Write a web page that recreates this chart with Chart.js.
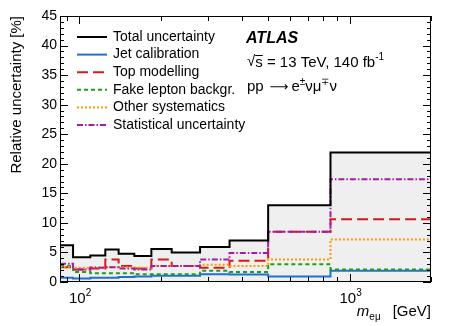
<!DOCTYPE html>
<html>
<head>
<meta charset="utf-8">
<script src="https://cdn.jsdelivr.net/npm/chart.js@4.4.1/dist/chart.umd.min.js"></script>
<style>
  html, body { margin: 0; padding: 0; background: #fff; }
</style>
</head>
<body>
<canvas id="unc-chart" width="449" height="326"></canvas>
<script>
// bin edges in m_emu [GeV]
const binEdges = [85, 95, 110, 125, 140, 160, 185, 220, 280, 360, 500, 850, 2000]

// relative uncertainties [%] per bin
const totalUnc = [6.2, 4.2, 4.5, 5.5, 4.8, 4.4, 5.6, 5.0, 5.9, 7.0, 13.0, 21.9]
const jetCalib = [0.7, 0.6, 0.7, 0.7, 0.85, 0.95, 1.05, 1.05, 1.3, 1.25, 0.95, 1.9]
const topModelling = [2.5, 2.1, 2.3, 3.8, 2.7, 2.3, 3.8, 2.7, 2.4, 3.6, 8.5, 10.6]
const fakeLepton = [2.7, 1.7, 1.5, 1.5, 1.5, 1.3, 1.3, 1.3, 1.9, 1.7, 3.0, 2.1]
const otherSyst = [2.6, 2.4, 2.5, 2.5, 2.5, 2.4, 2.7, 2.7, 2.9, 2.7, 3.8, 7.2]
const statUnc = [3.1, 2.1, 2.4, 2.5, 2.3, 2.1, 2.7, 2.7, 3.8, 4.9, 8.5, 17.4]

const xTicks = [90, 100, 200, 300, 400, 500, 600, 700, 800, 900, 1000, 2000]
// labelled decades: base + exponent
const xTickLabels = { 100: ['10', '2'], 1000: ['10', '3'] }
const yMax = 45

const FONT = '"Liberation Sans", Arial, Helvetica, sans-serif'

// histogram -> stepped points (left edges + closing right edge)
const toSteps = (vals) => binEdges.map((x, i) => ({ x, y: vals[Math.min(i, vals.length - 1)] }))

const series = [
  { label: 'Total uncertainty', data: totalUnc, color: '#000000', dash: [] },
  { label: 'Jet calibration', data: jetCalib, color: '#1f6fd6', dash: [] },
  { label: 'Top modelling', data: topModelling, color: '#d7191c', dash: [11, 5] },
  { label: 'Fake lepton backgr.', data: fakeLepton, color: '#1ca01c', dash: [4, 3] },
  { label: 'Other systematics', data: otherSyst, color: '#ff9a00', dash: [2, 2] },
  { label: 'Statistical uncertainty', data: statUnc, color: '#a41ea4', dash: [6, 2, 1.5, 2] },
]

// inner ticks + frame, ROOT style
const frameTicks = {
  id: 'frameTicks',
  afterDatasetsDraw(chart) {
    const { ctx, chartArea: a, scales: { x, y } } = chart
    ctx.save()
    ctx.strokeStyle = '#000'
    ctx.lineWidth = 1
    ctx.beginPath()
    for (let v = 0; v <= yMax; v++) {
      const py = Math.round(y.getPixelForValue(v)) + 0.5
      const len = v % 5 === 0 ? 8 : 4
      ctx.moveTo(a.left, py); ctx.lineTo(a.left + len, py)
      ctx.moveTo(a.right, py); ctx.lineTo(a.right - len, py)
    }
    xTicks.forEach((v) => {
      const px = Math.round(x.getPixelForValue(v)) + 0.5
      const len = xTickLabels[v] ? 8 : 5
      ctx.moveTo(px, a.bottom); ctx.lineTo(px, a.bottom - len)
      ctx.moveTo(px, a.top); ctx.lineTo(px, a.top + len)
    })
    ctx.stroke()
    ctx.strokeRect(Math.round(a.left) + 0.5, Math.round(a.top) + 0.5, Math.round(a.width) - 1, Math.round(a.height) - 1)

    // decade labels with superscript exponent
    ctx.fillStyle = '#000'
    ctx.textBaseline = 'alphabetic'
    Object.keys(xTickLabels).forEach((k) => {
      const [base, exp] = xTickLabels[k]
      ctx.font = `15px ${FONT}`
      const bw = ctx.measureText(base).width
      ctx.font = `10px ${FONT}`
      const ew = ctx.measureText(exp).width
      const x0 = x.getPixelForValue(Number(k)) - (bw + ew) / 2 + 1
      ctx.font = `15px ${FONT}`
      ctx.fillText(base, x0, a.bottom + 21)
      ctx.font = `10px ${FONT}`
      ctx.fillText(exp, x0 + bw, a.bottom + 14)
    })
    ctx.restore()
  },
}

// draw a run of [text, size, dy] pieces left to right
const drawRun = (ctx, parts, x, y) => {
  let tx = x
  parts.forEach(([t, size, dy]) => {
    ctx.font = `${size}px ${FONT}`
    ctx.fillText(t, tx, y + dy)
    tx += ctx.measureText(t).width
  })
  return tx
}

// legend, ATLAS label, x title
const annotations = {
  id: 'annotations',
  afterDraw(chart) {
    const { ctx, chartArea: a } = chart
    ctx.save()
    ctx.textBaseline = 'middle'
    ctx.font = `14px ${FONT}`
    series.forEach((s, i) => {
      const yy = 37 + i * 17.6
      ctx.strokeStyle = s.color
      ctx.lineWidth = 2
      ctx.setLineDash(s.dash)
      ctx.beginPath()
      ctx.moveTo(77, yy); ctx.lineTo(107, yy)
      ctx.stroke()
      ctx.setLineDash([])
      ctx.fillStyle = '#000'
      ctx.fillText(s.label, 113, yy)
    })

    ctx.fillStyle = '#000'
    ctx.font = `bold italic 16px ${FONT}`
    ctx.fillText('ATLAS', 246, 39)

    ctx.font = `15px ${FONT}`
    let tx = 247
    ctx.fillText('√', tx, 62)
    tx += ctx.measureText('√').width
    ctx.fillText('s', tx, 63)
    const sw = ctx.measureText('s').width
    ctx.lineWidth = 1
    ctx.strokeStyle = '#000'
    ctx.beginPath(); ctx.moveTo(tx, 55.5); ctx.lineTo(tx + sw, 55.5); ctx.stroke()
    tx += sw
    drawRun(ctx, [[' = 13 TeV, 140 fb', 15, 0], ['-1', 10, -6]], tx, 63)

    tx = drawRun(ctx, [['pp ', 15, 0]], 247, 87)
    ctx.font = `13px "DejaVu Sans", ${FONT}`
    ctx.fillText('⟶', tx + 2, 88)
    tx += ctx.measureText('⟶').width + 5
    drawRun(ctx, [['e', 15, 0], ['±', 10, -5], ['νμ', 15, 0], ['∓', 10, -5], ['ν', 15, 0]], tx, 87)

    // x title: m_{eμ} [GeV], right aligned to frame
    ctx.textAlign = 'right'
    ctx.font = `15px ${FONT}`
    const gev = '[GeV]'
    ctx.fillText(gev, a.right, 312)
    let rx = a.right - ctx.measureText(gev).width - 12
    ctx.font = `10px ${FONT}`
    ctx.fillText('eμ', rx, 317)
    rx -= ctx.measureText('eμ').width
    ctx.font = `italic 15px ${FONT}`
    ctx.fillText('m', rx, 312)
    ctx.restore()
  },
}

const ctx = document.getElementById('unc-chart')

new Chart(ctx, {
  type: 'line',
  data: {
    datasets: series.map((s, i) => ({
      label: s.label,
      data: toSteps(s.data),
      borderColor: s.color,
      borderDash: s.dash,
      borderWidth: 2,
      stepped: 'before',
      pointRadius: 0,
      fill: i === 0 ? 'origin' : false,
      backgroundColor: i === 0 ? '#efefef' : 'transparent',
      order: i === 0 ? 0 : 6 - i,
    })),
  },
  options: {
    responsive: false,
    animation: false,
    devicePixelRatio: 1,
    layout: { padding: { top: 16, right: 18, left: 0, bottom: 0 } },
    plugins: {
      legend: { display: false },
      tooltip: { enabled: false },
      filler: { drawTime: 'beforeDatasetsDraw' },
    },
    scales: {
      x: {
        type: 'logarithmic',
        min: 85,
        max: 2000,
        grid: { display: false, drawTicks: false },
        border: { display: false },
        afterBuildTicks: (scale) => { scale.ticks = xTicks.map((v) => ({ value: v })) },
        afterFit: (scale) => { scale.height = 44 },
        ticks: {
          autoSkip: false,
          maxRotation: 0,
          padding: 8,
          color: '#000',
          font: { family: FONT, size: 14 },
          callback: () => '',
        },
      },
      y: {
        min: 0,
        max: yMax,
        grid: { display: false, drawTicks: false },
        border: { display: false },
        afterFit: (scale) => { scale.width = 60 },
        ticks: {
          stepSize: 5,
          padding: 3,
          color: '#000',
          font: { family: FONT, size: 14 },
        },
        title: {
          display: true,
          text: 'Relative uncertainty [%]',
          align: 'end',
          color: '#000',
          font: { family: FONT, size: 15 },
          padding: { top: 8, bottom: 0 },
        },
      },
    },
  },
  plugins: [frameTicks, annotations],
})
</script>
</body>
</html>
